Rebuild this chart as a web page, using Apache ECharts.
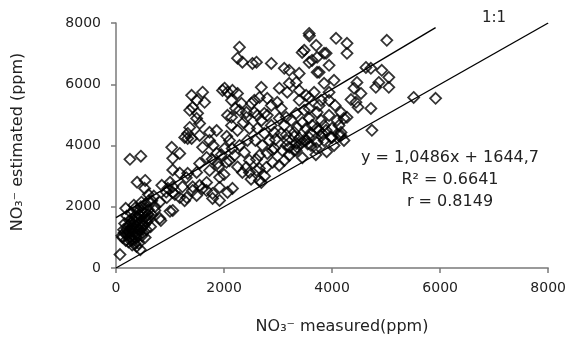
<!DOCTYPE html>
<html>
<head>
<meta charset="utf-8">
<script src="https://cdn.jsdelivr.net/npm/echarts@6/dist/echarts.min.js"></script>
<style>html,body{margin:0;padding:0;background:#fff;}#c{width:569px;height:338px;}</style>
</head>
<body>
<div id="c"></div>
<script>
// Axis ticks
var xTicks = [0, 2000, 4000, 6000, 8000];
var yTicks = [0, 2000, 4000, 6000, 8000];
// Regression: y = slope * x + intercept
var slope = 1.0486;
var intercept = 1644.7;
var statsLines = ['y = 1,0486x + 1644,7', 'R² = 0.6641', 'r = 0.8149'];

// Measured (x) vs estimated (y) NO3- in ppm
var lowCluster = [[74,440],[120,1000],[150,1150],[180,900],[200,1300],[220,1100],[240,1400],[260,1250],[280,1000],[300,1600],[300,1350],[320,1200],[330,900],[350,1500],[360,1700],[370,1100],[380,1350],[400,1900],[400,1550],[410,1250],[420,800],[430,1450],[450,1700],[460,2000],[470,1300],[480,1550],[500,1150],[500,1800],[510,1950],[520,1400],[540,1650],[550,2100],[560,1250],[570,1500],[590,1750],[600,1900],[620,1600],[640,1350],[420,1050],[350,1950],[280,1800],[250,1550],[200,1700],[160,1450],[230,850],[380,700],[450,600],[300,750],[540,1000],[470,2150],[610,2200],[660,1750],[180,1950],[330,2050],[110,1050],
[140,1250],[190,1100],[250,1000],[270,1450],[310,1100],[340,1300],[390,1150],[440,1250],[490,1400],[530,1800],[580,1600],[360,1000],[290,1250],[230,1200],[430,1750],[390,1650],[320,1450],[480,1050],[350,800],[270,900],
[258,3550],[460,3650],[390,2800],[540,2860],[530,2600],[600,2400],[700,2350]];
var midLeft = [[720,2000],[811,2150],[830,1550],[1000,1850],[930,2480],[1000,2800],[1050,2650],[1090,2400],[1180,2300],[1230,2650],[1050,3200],[1180,3100],[1300,2950],[1270,2200],[1420,2650],
[1032,3940],[1180,3740],[1050,3580],[848,2700],[958,2600],[1050,2470],[940,2300],[1050,1880],[811,1620],[663,2200],[719,1880],[1327,3090],[1493,3120],[1548,3415],[1677,3610],[1548,2700],[1419,2530],[1493,2370],[1309,2300],[1677,2530],[1788,2270],[1917,2206],[2064,2470],[1732,3186],[1917,2960],[1880,3415],[2046,3450],[1862,3740],[2009,3900],[1548,4330],[1327,4230]];
var upperLeft = [[1400,5640],[1603,5740],[1493,5475],[1640,5410],[1419,5245],[1364,5150],[1511,5050],[1493,4885],[1364,4590],[1327,4395],[1400,4230],[1732,4430],[1862,4490],[1732,4167],[1603,3940],[1272,4265],[1548,4720],[1972,5800],[2064,4985],
[1800,4000],[1950,3700],[2050,4300],[2150,3900],[1900,3300],[2100,3500],[2250,3300],[2000,3050],[1780,3550]];
var midBand = [[2414,3285],[2470,3513],[2340,3120],[2690,2795],[2600,3186],[2783,3285],[2893,3840],[3151,4003],[3336,4070],[3520,4167],[3705,3905],[3815,4395],[4000,4265],[4128,4330],
[2654,2860],[2156,2600],[1917,2630],[1788,2435],[1677,2795],[1603,2600],[2470,3120],[2654,3250],[3207,3940],[3299,3840],[3428,4070],[3575,4265],[3723,4560],
[2138,5474],[2212,5213],[2322,5376],[2414,5082],[2138,4657],[2248,4494],[2359,4755],[2470,4559],[2101,4167],[2285,4003],[2433,4167],[2193,3677],[2377,3774],
[2562,5082],[2691,4820],[2801,4984],[2617,4559],[2746,4396],[2875,4657],[2580,4167],[2709,4003],[2838,4167],[2930,4428],[2654,3677],[2801,3742],[2930,3905],
[3022,4886],[3115,4657],[3244,4820],[3354,4591],[3059,4396],[3170,4167],[3299,4428],[3391,4232],[3078,3840],[3207,3677],[3336,3840],[3115,3513],[3022,3350],
[3483,5147],[3575,4886],[3723,5082],[3797,4820],[3520,4559],[3631,4657],[3760,4494],[3852,4657],[3483,4167],[3612,4003],[3723,4101],[3852,4167],
[3944,5474],[4055,5310],[4165,5082],[3944,4984],[4091,4820],[4220,4886],[3999,4559],[4128,4657],[4220,4167],[4036,4003],[4165,4428],
[3391,5800],[3520,5637],[3668,5735],[3797,5474],[3944,5735],[2500,2900],[2750,3000],[2900,3450],[2600,3550],[3700,3700],[3900,3800],[3450,3600],
[3300,4300],[3600,4400],[3450,4750],[3800,4300],[3350,3950],[3550,4050],[2950,4200],[3150,4350]];
var upperMid = [[2285,7210],[2249,6850],[2340,6720],[2525,6680],[2600,6720],[2875,6680],[3115,6520],[3207,6455],[3391,6355],[3336,6060],[3446,7040],[3575,6715],[3723,6880],[3723,6390],[3852,6030],[3207,6030],[3022,5870],[3170,5740],[2690,5900],[2654,5570],[2562,5475],[2507,5375],[2800,5540],[2875,5310],[2009,5870],[2064,5740],[2156,5800],[2249,5700],[2985,5410],[3060,5210],[3391,5475],[3575,5570],[3575,5210],[3760,5310],[2285,5150],[2138,4920],[2414,4920],[2617,4985],[2746,5050],[3151,4920],[3336,5050]];
var upperRight = [[3575,7660],[3580,7580],[4073,7500],[4276,7335],[4276,7010],[5013,7435],[4036,6130],[3760,6390],[3944,6620],[3630,6780],[3852,7010],[3483,7110],[3705,7270],[3889,7010],
[4626,6550],[4718,6520],[4920,6455],[5050,6225],[4865,6060],[4810,5900],[5050,5900],[4460,6060],[4442,5410],[4718,5210],[4276,4920],[4737,4495],[4165,4330],[3980,4265],[3889,4495],[5510,5570],[5916,5540],
[4405,5870],[4534,5700],[4350,5500],[4480,5250]];

var points = [].concat(lowCluster, midLeft, upperLeft, midBand, upperMid, upperRight);
var maxX = Math.max.apply(null, points.map(function(p){return p[0];}));

var chart = echarts.init(document.getElementById('c'), null, {renderer: 'canvas'});
var font = 'DejaVu Sans';
var axisCommon = {
  min: 0, max: 8000, interval: 2000,
  axisLine: {show: true, lineStyle: {color: '#7a7a7a', width: 1.5}},
  axisTick: {show: true, inside: false, length: 5, lineStyle: {color: '#7a7a7a', width: 1.5}},
  splitLine: {show: false},
  axisLabel: {color: '#222', fontSize: 14, fontFamily: font, formatter: function (v) { return String(v); }}
};
var option = {
  animation: false,
  grid: {left: 116, right: 19, top: 23, bottom: 70},
  xAxis: Object.assign({type: 'value'}, axisCommon, {axisLabel: Object.assign({}, axisCommon.axisLabel, {margin: 13})}),
  yAxis: Object.assign({type: 'value'}, axisCommon, {axisLabel: Object.assign({}, axisCommon.axisLabel, {margin: 15})}),
  series: [
    {type: 'line', data: [[0, 0], [8000, 8000]], symbol: 'none', lineStyle: {color: '#000', width: 1.4}, z: 1},
    {type: 'line', data: [[0, intercept], [maxX, intercept + slope * maxX]], symbol: 'none', lineStyle: {color: '#000', width: 1.4}, z: 1},
    {type: 'scatter', data: points, symbol: 'diamond', symbolSize: 11,
     itemStyle: {color: 'rgba(0,0,0,0)', borderColor: '#000', borderWidth: 1.8}, z: 2}
  ],
  graphic: [
    {type: 'text', left: 482, top: 11, style: {text: '1:1', fontSize: 15, fontFamily: font, fill: '#222'}},
    {type: 'text', x: 450, y: 158, style: {text: statsLines[0], fontSize: 16, fontFamily: font, fill: '#222', textAlign: 'center', textVerticalAlign: 'middle'}},
    {type: 'text', x: 450, y: 180, style: {text: statsLines[1], fontSize: 16, fontFamily: font, fill: '#222', textAlign: 'center', textVerticalAlign: 'middle'}},
    {type: 'text', x: 450, y: 202, style: {text: statsLines[2], fontSize: 16, fontFamily: font, fill: '#222', textAlign: 'center', textVerticalAlign: 'middle'}},
    {type: 'text', x: 342, y: 327, style: {text: 'NO₃⁻ measured(ppm)', fontSize: 16, fontFamily: font, fill: '#222', textAlign: 'center', textVerticalAlign: 'middle'}},
    {type: 'text', x: 18, y: 142, rotation: Math.PI / 2, style: {text: 'NO₃⁻ estimated (ppm)', fontSize: 16, fontFamily: font, fill: '#222', textAlign: 'center', textVerticalAlign: 'middle'}}
  ]
};
chart.setOption(option);
</script>
</body>
</html>
